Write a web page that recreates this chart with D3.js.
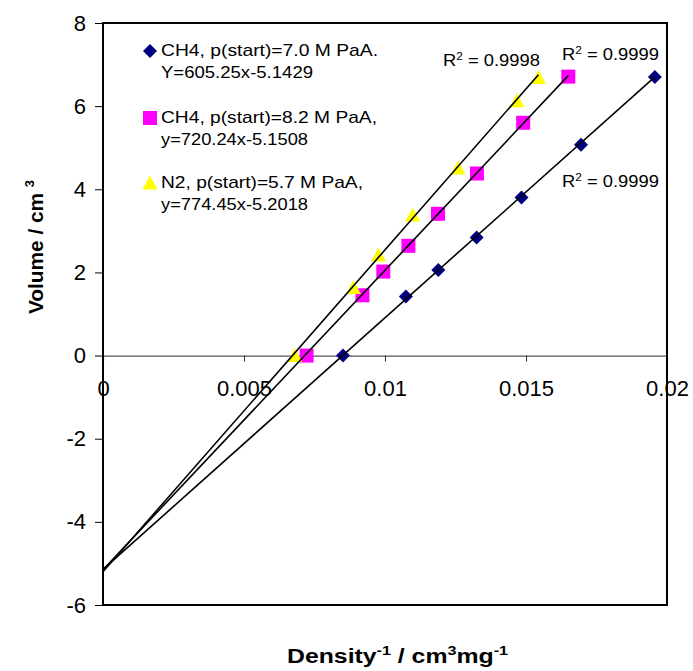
<!DOCTYPE html>
<html>
<head>
<meta charset="utf-8">
<script src="https://cdn.jsdelivr.net/npm/d3@7"></script>
<style>
  body { margin: 0; background: #fff; }
  svg { display: block; font-family: Arial, "Liberation Sans", sans-serif; }
</style>
</head>
<body>
<svg id="chart" width="693" height="671"></svg>
<script>
'use strict';

// values
var ch4LowX = [0.00851, 0.01074, 0.01189, 0.01325, 0.01484, 0.01695, 0.01957],
    ch4LowY = [0.0, 1.42, 2.06, 2.84, 3.80, 5.07, 6.70];

var ch4HighX = [0.00722, 0.00920, 0.00994, 0.01083, 0.01188, 0.01326, 0.01490, 0.01650],
    ch4HighY = [0.0, 1.45, 2.02, 2.64, 3.41, 4.38, 5.60, 6.71];

var n2X = [0.00680, 0.00888, 0.00977, 0.01098, 0.01259, 0.01468, 0.01544],
    n2Y = [0.0, 1.64, 2.42, 3.38, 4.51, 6.13, 6.69];

var slopes = [605.25, 720.24, 774.45],
    intercepts = [-5.1429, -5.1508, -5.2018],
    rSquared = ['0.9999', '0.9999', '0.9998'];

var legendLine1 = ['CH4, p(start)=7.0 M PaA.', 'CH4, p(start)=8.2 M PaA,', 'N2, p(start)=5.7 M PaA,'],
    legendLine2 = ['Y=605.25x-5.1429', 'y=720.24x-5.1508', 'y=774.45x-5.2018'];

var xTicks = [0, 0.005, 0.01, 0.015, 0.02],
    yTicks = [-6, -4, -2, 0, 2, 4, 6, 8];

var svg = d3.select('#chart');

var plotLeft = 103, plotRight = 667, plotTop = 23, plotBottom = 605;

var x = d3.scaleLinear().domain([0, 0.02]).range([plotLeft, plotRight]),
    y = d3.scaleLinear().domain([-6, 8]).range([plotBottom, plotTop]);

// marker shapes, centred on 0,0
function diamond(r) { return 'M0,' + (-r) + 'L' + r + ',0L0,' + r + 'L' + (-r) + ',0Z'; }
function square(r) { return 'M' + (-r) + ',' + (-r) + 'H' + r + 'V' + r + 'H' + (-r) + 'Z'; }
function triangle(r) { return 'M0,' + (-r) + 'L' + r + ',' + (r - 1) + 'H' + (-r) + 'Z'; }

var series = [
    {xs: ch4LowX, ys: ch4LowY, color: '#000080', shape: diamond(7)},
    {xs: ch4HighX, ys: ch4HighY, color: '#ff00ff', shape: square(7)},
    {xs: n2X, ys: n2Y, color: '#ffff00', shape: triangle(7.5)}
];

var plain = function(d) { return String(d); };   // hyphen minus, like the original

// y axis
var yAxis = svg.append('g')
    .attr('transform', 'translate(' + plotLeft + ',0)')
    .call(d3.axisLeft(y).tickValues(yTicks).tickSize(8).tickPadding(9).tickFormat(plain));
yAxis.select('.domain').remove();
yAxis.selectAll('text')
    .style('font-size', '22px')
    .attr('fill', '#000');
yAxis.selectAll('line').attr('stroke', '#000');

// x axis through y = 0
var xAxis = svg.append('g')
    .attr('transform', 'translate(0,' + y(0) + ')')
    .call(d3.axisBottom(x).tickValues(xTicks).tickSize(6).tickPadding(19).tickFormat(plain));
xAxis.select('.domain')
    .attr('stroke', '#555')
    .attr('stroke-width', 1.2);
xAxis.selectAll('line').attr('stroke', '#333');
xAxis.selectAll('text')
    .style('font-size', '22px')
    .attr('fill', '#000');

// markers
series.forEach(function(s) {
    svg.append('g').selectAll('path')
        .data(d3.range(s.xs.length))
        .enter().append('path')
        .attr('d', s.shape)
        .attr('transform', function(i) {
            return 'translate(' + x(s.xs[i]) + ',' + y(s.ys[i]) + ')';
        })
        .attr('fill', s.color);
});

// trend lines from x = 0 to the last point
series.forEach(function(s, k) {
    var xEnd = d3.max(s.xs);
    svg.append('line')
        .attr('x1', x(0))
        .attr('y1', y(intercepts[k]))
        .attr('x2', x(xEnd))
        .attr('y2', y(slopes[k] * xEnd + intercepts[k]))
        .attr('stroke', '#000')
        .attr('stroke-width', 1.6);
});

// plot frame
svg.append('rect')
    .attr('x', plotLeft).attr('y', plotTop)
    .attr('width', plotRight - plotLeft).attr('height', plotBottom - plotTop)
    .attr('fill', 'none')
    .attr('stroke', '#000')
    .attr('stroke-width', 2);

// R squared labels
var rPos = [[562, 187], [562, 60], [443, 66]];
rSquared.forEach(function(r, k) {
    var t = svg.append('text')
        .attr('x', rPos[k][0]).attr('y', rPos[k][1])
        .style('font-size', '17px')
        .attr('textLength', 97)
        .attr('lengthAdjust', 'spacingAndGlyphs');
    t.append('tspan').text('R');
    t.append('tspan').attr('dy', -6).style('font-size', '11px').text('2');
    t.append('tspan').attr('dy', 6).text(' = ' + r);
});

// legend
var legendY = [51, 118, 183],
    legendW1 = [217, 216, 202],
    legendW2 = [152, 147, 147];
series.forEach(function(s, k) {
    svg.append('path')
        .attr('d', s.shape)
        .attr('transform', 'translate(150,' + legendY[k] + ')')
        .attr('fill', s.color);
    svg.append('text')
        .attr('x', 161).attr('y', legendY[k] + 5)
        .style('font-size', '17px')
        .attr('textLength', legendW1[k])
        .attr('lengthAdjust', 'spacingAndGlyphs')
        .text(legendLine1[k]);
    svg.append('text')
        .attr('x', 161).attr('y', legendY[k] + 27)
        .style('font-size', '17px')
        .attr('textLength', legendW2[k])
        .attr('lengthAdjust', 'spacingAndGlyphs')
        .text(legendLine2[k]);
});

// axis titles
var xt = svg.append('text')
    .attr('x', 287).attr('y', 663)
    .style('font-size', '20px')
    .style('font-weight', 'bold')
    .attr('textLength', 221)
    .attr('lengthAdjust', 'spacingAndGlyphs');
xt.append('tspan').text('Density');
xt.append('tspan').attr('dy', -8).style('font-size', '13px').text('-1');
xt.append('tspan').attr('dy', 8).text(' / cm');
xt.append('tspan').attr('dy', -8).style('font-size', '13px').text('3');
xt.append('tspan').attr('dy', 8).text('mg');
xt.append('tspan').attr('dy', -8).style('font-size', '13px').text('-1');

var yt = svg.append('text')
    .attr('transform', 'translate(43,314) rotate(-90)')
    .style('font-size', '21px')
    .style('font-weight', 'bold')
    .attr('textLength', 134)
    .attr('lengthAdjust', 'spacingAndGlyphs');
yt.append('tspan').text('Volume / cm ');
yt.append('tspan').attr('dy', -9).style('font-size', '13px').text('3');
</script>
</body>
</html>
